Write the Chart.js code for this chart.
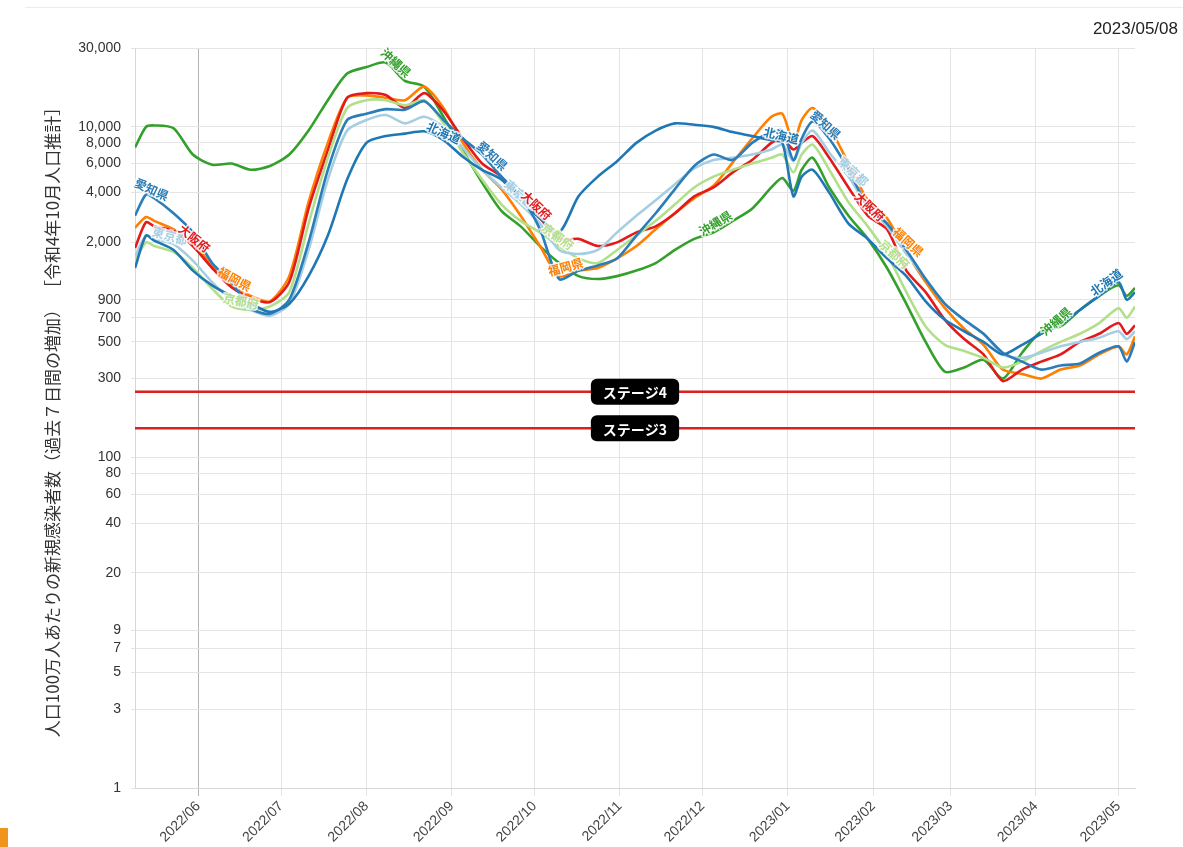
<!DOCTYPE html>
<html><head><meta charset="utf-8">
<script src="https://cdn.jsdelivr.net/npm/chart.js@4/dist/chart.umd.min.js"></script>
<style>
html,body{margin:0;padding:0;background:#fff;}
#wrap{position:relative;width:1183px;height:847px;overflow:hidden;}
canvas{position:absolute;left:0;top:0;}
#date{position:absolute;right:5px;top:19px;font:17px "Liberation Sans",Arial,sans-serif;color:#222;}
#topline{position:absolute;left:25px;right:0;top:7px;height:1px;background:#ececec;}
#corner{position:absolute;left:0;top:828px;width:8px;height:19px;background:#f0941c;}
</style></head><body>
<div id="wrap"><div id="topline"></div><canvas id="c" width="1183" height="847"></canvas><div id="date">2023/05/08</div><div id="corner"></div></div>
<script>
const dates = ['2022-05-09','2022-05-13','2022-05-16','2022-05-23','2022-05-30','2022-06-06','2022-06-13','2022-06-20','2022-06-27','2022-07-04','2022-07-11','2022-07-18','2022-07-25','2022-08-01','2022-08-08','2022-08-15','2022-08-22','2022-08-29','2022-09-05','2022-09-12','2022-09-19','2022-09-26','2022-10-03','2022-10-10','2022-10-17','2022-10-24','2022-10-31','2022-11-07','2022-11-14','2022-11-21','2022-11-28','2022-12-05','2022-12-12','2022-12-19','2022-12-26','2022-12-30','2023-01-03','2023-01-06','2023-01-10','2023-01-16','2023-01-23','2023-01-30','2023-02-06','2023-02-13','2023-02-20','2023-02-27','2023-03-06','2023-03-13','2023-03-20','2023-03-27','2023-04-03','2023-04-10','2023-04-17','2023-04-24','2023-05-01','2023-05-04','2023-05-07'];

const hokkaido = [1400,2200,2050,1800,1350,1100,950,850,760,850,1250,2200,4800,8000,8800,9100,9400,8300,6600,5500,4800,3600,2800,2300,3800,5000,6200,8000,9500,10500,10300,10000,9300,8800,8300,8000,3800,5000,5500,4000,2600,2100,1600,1250,880,680,580,500,420,480,560,640,780,950,1150,900,1000];
const aichi    = [2900,3900,3700,3000,2300,1500,1150,800,740,900,2000,5500,11000,12000,12800,12700,14300,11000,8500,6800,5000,3800,2400,1200,1350,1450,1600,2200,3000,4200,5800,6800,6300,8000,9300,9500,6300,8500,10800,8500,5500,3300,2600,1800,1200,850,680,560,430,380,340,360,370,430,470,380,500];
const tokyo    = [1650,2200,2100,1950,1550,1150,900,780,720,850,1800,4800,9500,11000,11800,10500,11500,10000,7500,5500,4300,3400,2600,1800,1700,1800,2300,2900,3600,4500,5600,6300,6500,6800,7300,7800,6200,8000,9500,7000,5000,3300,2500,1700,1200,850,680,560,420,400,430,470,500,530,580,520,580];
const kyoto    = [1550,2000,1900,1750,1400,1050,820,780,820,1000,2600,6500,13000,14500,14500,13500,14500,10500,7000,4800,3400,2700,2300,1900,1600,1500,1800,2200,2700,3400,4300,5000,5500,6000,6500,6800,5300,6800,7800,5500,3500,2500,1700,1000,620,480,440,400,350,380,440,500,560,650,800,700,820];
const osaka    = [1850,2650,2500,2350,1900,1400,1070,920,870,1150,3200,7200,15000,16000,15600,13000,16000,12500,8500,6000,5000,3600,2800,2100,2100,1900,2000,2300,2500,3000,3800,4300,5300,6300,8000,8500,7300,8000,8800,6500,4300,2900,2400,1350,1000,680,520,420,290,340,380,420,500,560,650,560,630];
const fukuoka  = [2450,2850,2700,2400,2000,1450,1100,950,880,1250,3500,8000,15000,15500,15000,14500,17500,13000,8000,5500,4200,2900,1900,1250,1350,1400,1600,1900,2400,3000,3700,4400,6100,8500,11500,12000,8000,11000,13000,10000,6000,3600,2800,1750,1150,800,600,480,340,320,300,340,360,420,470,420,540];
const okinawa  = [7500,10000,10200,9800,6800,5900,6000,5500,5800,6800,9500,14500,21000,23000,24500,19000,17500,11500,7200,4600,3100,2500,1900,1500,1250,1200,1250,1350,1500,1800,2100,2300,2700,3200,4300,4900,4100,5500,6500,4300,2900,2100,1400,850,500,330,350,390,300,430,580,620,780,950,1100,950,1060];

const prefNames  = ['北海道','愛知県','東京都','京都府','大阪府','福岡県','沖縄県'];
const prefValues = [hokkaido, aichi, tokyo, kyoto, osaka, fukuoka, okinawa];
const prefColors = ['#1f78b4','#2a7db8','#a6cee3','#b2df8a','#e31a1c','#ff7f00','#33a02c'];
// dates on which each name is written along its line
const labelDates = [
  ['2022-08-28','2022-12-29','2023-04-28'],
  ['2022-05-14','2022-09-14','2023-01-13'],
  ['2022-05-21','2022-09-24','2023-01-23'],
  ['2022-06-16','2022-10-08','2023-02-07'],
  ['2022-05-29','2022-09-30','2023-01-29'],
  ['2022-06-13','2022-10-13','2023-02-12'],
  ['2022-08-10','2022-12-07','2023-04-10']
];

const yTicks = [1,3,5,7,9,20,40,60,80,100,300,500,700,900,2000,4000,6000,8000,10000,30000];
const monthTicks = ['2022-06-01','2022-07-01','2022-08-01','2022-09-01','2022-10-01','2022-11-01','2022-12-01','2023-01-01','2023-02-01','2023-03-01','2023-04-01','2023-05-01'];
const stages = [{value:250, text:'ステージ4'},{value:150, text:'ステージ3'}];
const yTitle = '人口100万人あたりの新規感染者数（過去７日間の増加） ［令和4年10月人口推計］';

const DAY = 86400000;
const t0 = Date.parse(dates[0]);
const dayOf = d => (Date.parse(d) - t0) / DAY;
const xs = dates.map(dayOf);
const lastDay = xs[xs.length - 1];

const datasets = prefNames.map((n, i) => ({
  label: n,
  data: prefValues[i].map((v, j) => ({x: xs[j], y: v})),
  borderColor: prefColors[i],
  backgroundColor: prefColors[i],
  borderWidth: 2.6,
  pointRadius: 0,
  tension: 0.25,
  fill: false
}));

const stagePlugin = {
  id: 'stages',
  beforeDatasetsDraw(chart) {
    const {ctx, chartArea, scales} = chart;
    ctx.save();
    stages.forEach(s => {
      const y = scales.y.getPixelForValue(s.value);
      ctx.strokeStyle = '#dc1f1f';
      ctx.lineWidth = 2.5;
      ctx.beginPath(); ctx.moveTo(chartArea.left, y); ctx.lineTo(chartArea.right, y); ctx.stroke();
    });
    ctx.restore();
  },
  afterDatasetsDraw(chart) {
    const {ctx, chartArea, scales} = chart;
    ctx.save();
    ctx.font = 'bold 12px "Noto Sans CJK JP", sans-serif';
    ctx.textAlign = 'center';
    ctx.textBaseline = 'middle';
    chart.data.datasets.forEach((ds, i) => {
      labelDates[i].forEach(ld => {
        const d = dayOf(ld);
        let j = 0;
        while (j < xs.length - 2 && xs[j + 1] <= d) j++;
        const x1 = scales.x.getPixelForValue(xs[j]), y1 = scales.y.getPixelForValue(prefValues[i][j]);
        const x2 = scales.x.getPixelForValue(xs[j + 1]), y2 = scales.y.getPixelForValue(prefValues[i][j + 1]);
        const t = Math.min(1, Math.max(0, (d - xs[j]) / (xs[j + 1] - xs[j])));
        const px = x1 + (x2 - x1) * t, py = y1 + (y2 - y1) * t;
        let ang = Math.atan2(y2 - y1, x2 - x1);
        ang = Math.max(-0.75, Math.min(0.75, ang));
        ctx.save();
        ctx.translate(px, py);
        ctx.rotate(ang);
        ctx.lineWidth = 3;
        ctx.strokeStyle = 'rgba(255,255,255,0.8)';
        ctx.strokeText(ds.label, 0, -7);
        ctx.fillStyle = ds.borderColor;
        ctx.fillText(ds.label, 0, -7);
        ctx.restore();
      });
    });
    ctx.font = 'bold 14px "Noto Sans CJK JP", sans-serif';
    stages.forEach(s => {
      const y = scales.y.getPixelForValue(s.value);
      const cx = (chartArea.left + chartArea.right) / 2;
      const w = ctx.measureText(s.text).width + 24, h = 26;
      ctx.fillStyle = '#000';
      ctx.beginPath();
      ctx.roundRect(cx - w / 2, y - h / 2, w, h, 6);
      ctx.fill();
      ctx.fillStyle = '#fff';
      ctx.fillText(s.text, cx, y + 1);
    });
    ctx.restore();
  }
};

new Chart(document.getElementById('c'), {
  type: 'line',
  data: {datasets},
  plugins: [stagePlugin],
  options: {
    responsive: false,
    animation: false,
    devicePixelRatio: 1,
    layout: {padding: {left: 0, right: 48, top: 48, bottom: 0}},
    plugins: {legend: {display: false}, tooltip: {enabled: false}, title: {display: false}},
    scales: {
      x: {
        type: 'linear', min: 0, max: lastDay,
        afterBuildTicks: ax => { ax.ticks = monthTicks.map(m => ({value: dayOf(m)})); },
        afterFit: sc => { sc.height = 59; },
        ticks: {
          autoSkip: false, maxRotation: 45, minRotation: 45, padding: 2,
          color: '#444', font: {family: '"Liberation Sans", Arial, sans-serif', size: 14},
          callback: (v, i) => monthTicks[i] ? monthTicks[i].slice(0, 7).replace('-', '/') : ''
        },
        grid: {color: ctx => ctx.index === 0 ? '#b4b4b4' : '#e4e4e4', lineWidth: 1, tickLength: 8},
        border: {color: '#d8d8d8'}
      },
      y: {
        type: 'logarithmic', min: 1, max: 30000,
        afterBuildTicks: ax => { ax.ticks = yTicks.map(v => ({value: v})); },
        afterFit: sc => { sc.width = 135; },
        ticks: {
          autoSkip: false, padding: 10, color: '#333',
          font: {family: '"Liberation Sans", Arial, sans-serif', size: 14},
          callback: v => Number(v).toLocaleString('en-US')
        },
        grid: {color: '#e4e4e4', lineWidth: 1, tickLength: 4},
        border: {color: '#d8d8d8'},
        title: {
          display: true, text: yTitle, align: 'center', color: '#333',
          font: {family: '"Noto Sans CJK JP", sans-serif', size: 17},
          padding: {top: 42, bottom: 0}
        }
      }
    }
  }
});
</script>
</body></html>
